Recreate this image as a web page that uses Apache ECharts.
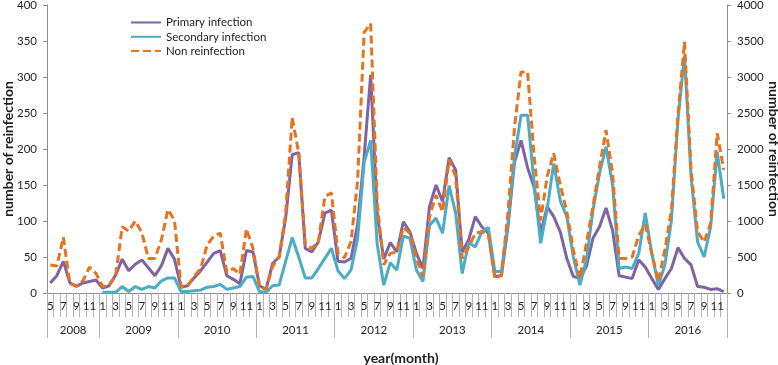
<!DOCTYPE html>
<html>
<head>
<meta charset="utf-8">
<script src="https://cdn.jsdelivr.net/npm/echarts@6/dist/echarts.min.js"></script>
<style>
  html, body { margin: 0; padding: 0; background: #fff; }
  #chart { width: 778px; height: 365px; }
</style>
</head>
<body>
<div id="chart"></div>
<script>
// x axis: years, first month shown in 2008
var years = ['2008', '2009', '2010', '2011', '2012', '2013', '2014', '2015', '2016'];
var firstMonth = 5;

// left axis series
var primary = [
  14, 24, 44, 14, 9, 14, 16, 18,
  7, 10, 25, 47, 31, 40, 46, 35, 24, 38, 62, 47,
  8, 10, 21, 31, 43, 55, 59, 24, 19, 13, 59, 57,
  10, 5, 41, 50, 104, 192, 195, 62, 57, 71, 111, 115,
  44, 43, 48, 95, 189, 303, 110, 47, 70, 57, 99, 85,
  55, 34, 120, 150, 127, 188, 171, 57, 74, 106, 92, 83,
  23, 24, 92, 182, 212, 174, 147, 83, 120, 106, 85, 48,
  23, 20, 37, 76, 92, 118, 87, 24, 22, 20, 46, 36,
  20, 5, 20, 34, 63, 48, 39, 9, 8, 5, 6, 2
];
var secondary = [
  null, null, null, null, null, null, null, null,
  1, 1, 1, 9, 2, 9, 5, 9, 7, 17, 21, 21,
  2, 2, 3, 4, 8, 9, 12, 5, 7, 9, 22, 23,
  2, 1, 10, 11, 44, 77, 50, 21, 21, 34, 48, 62,
  31, 20, 32, 75, 181, 212, 68, 11, 42, 32, 79, 76,
  32, 16, 94, 104, 83, 149, 111, 27, 70, 64, 85, 91,
  30, 30, 97, 189, 247, 247, 152, 69, 117, 180, 128, 106,
  50, 11, 46, 115, 166, 203, 150, 34, 36, 34, 55, 111,
  55, 11, 39, 101, 240, 330, 162, 71, 50, 92, 196, 131
];
// right axis series
var nonReinfection = [
  390, 375, 775, 130, 100, 170, 360, 270,
  90, 110, 240, 920, 860, 1000, 840, 480, 480, 740, 1160, 1010,
  90, 100, 230, 340, 670, 790, 830, 290, 340, 260, 890, 620,
  90, 50, 370, 500, 1100, 2440, 1940, 670, 620, 710, 1340, 1390,
  550, 490, 715, 1550, 3620, 3740, 1250, 390, 550, 570, 910, 830,
  480, 230, 1060, 1360, 1130, 1850, 1620, 480, 640, 830, 850, 820,
  200, 250, 1110, 2300, 3070, 3070, 1900, 1010, 1620, 1940, 1500, 1130,
  600, 200, 690, 1200, 1750, 2260, 1660, 480, 480, 500, 800, 950,
  550, 160, 600, 1150, 2470, 3490, 1710, 850, 710, 970, 2220, 1710
];

// build categories, year starts and label positions
var categories = [], monthOf = [], yearStart = {}, yearMid = {};
years.forEach(function (y, k) {
  var m0 = k === 0 ? firstMonth : 1;
  var start = categories.length;
  yearStart[start] = true;
  yearMid[start + (13 - m0) / 2] = y;
  for (var m = m0; m <= 12; m++) {
    categories.push(y + '-' + m);
    monthOf.push(m);
  }
});

var FONT = 'Lato';
var AXIS_COLOR = '#8c8c8c';
var TICK_COLOR = '#b3b3b3';
var TEXT_COLOR = '#1f1f1f';
var gridBox = {left: 47, right: 51, top: 5, bottom: 72, outerBoundsMode: 'none'};

var chart = echarts.init(document.getElementById('chart'));
chart.setOption({
  animation: false,
  textStyle: {fontFamily: FONT},
  grid: [
    Object.assign({}, gridBox),
    Object.assign({}, gridBox)
  ],
  legend: {
    orient: 'vertical',
    left: 130,
    top: 16,
    padding: 0,
    itemWidth: 30,
    itemHeight: 10,
    itemGap: 1.3,
    itemStyle: {opacity: 0},
    textStyle: {fontFamily: FONT, fontSize: 11.5, lineHeight: 13, color: TEXT_COLOR},
    data: ['Primary infection', 'Secondary infection', 'Non reinfection']
  },
  xAxis: [{
    type: 'category',
    gridIndex: 0,
    data: categories,
    boundaryGap: true,
    axisLine: {show: true, lineStyle: {color: AXIS_COLOR, width: 1}},
    axisTick: {show: true, interval: 0, length: 24, lineStyle: {color: TICK_COLOR}},
    axisLabel: {
      interval: function (i) { return monthOf[i] % 2 === 1; },
      formatter: function (v, i) { return String(monthOf[i]); },
      margin: 7,
      fontSize: 11.5,
      color: TEXT_COLOR
    }
  }, {
    type: 'category',
    gridIndex: 1,
    data: categories,
    boundaryGap: true,
    axisLine: {show: false},
    axisTick: {
      show: true,
      interval: function (i) { return !!yearStart[i]; },
      length: 45,
      lineStyle: {color: TICK_COLOR}
    },
    axisLabel: {
      interval: function (i) { return yearMid[i] !== undefined; },
      formatter: function (v, i) { return yearMid[i] || ''; },
      margin: 31,
      fontSize: 11.5,
      padding: [0, 6.5, 0, 0],
      color: TEXT_COLOR
    },
    name: 'year(month)',
    nameLocation: 'middle',
    nameGap: 58,
    nameMoveOverlap: false,
    nameTextStyle: {fontFamily: FONT, fontSize: 14, fontWeight: 'bold', color: TEXT_COLOR, padding: [0, 0, 0, 28]}
  }],
  yAxis: [{
    type: 'value',
    gridIndex: 0,
    min: 0, max: 400, interval: 50,
    splitLine: {show: false},
    axisLine: {show: true, lineStyle: {color: AXIS_COLOR}},
    axisTick: {show: true, length: 4, lineStyle: {color: AXIS_COLOR}},
    axisLabel: {fontSize: 11.5, margin: 10, color: TEXT_COLOR, formatter: function (v) { return String(v); }},
    name: 'number of reinfection',
    nameLocation: 'middle',
    nameGap: 32,
    nameMoveOverlap: false,
    nameRotate: 90,
    nameTextStyle: {fontFamily: FONT, fontSize: 14, fontWeight: 'bold', color: TEXT_COLOR}
  }, {
    type: 'value',
    gridIndex: 0,
    position: 'right',
    min: 0, max: 4000, interval: 500,
    splitLine: {show: false},
    axisLine: {show: true, lineStyle: {color: AXIS_COLOR}},
    axisTick: {show: true, length: 4, lineStyle: {color: AXIS_COLOR}},
    axisLabel: {fontSize: 11.5, margin: 10, color: TEXT_COLOR, formatter: function (v) { return String(v); }},
    name: 'number of reinfection',
    nameLocation: 'middle',
    nameGap: 40,
    nameMoveOverlap: false,
    nameRotate: -90,
    nameTextStyle: {fontFamily: FONT, fontSize: 14, fontWeight: 'bold', color: TEXT_COLOR}
  }, {
    type: 'value',
    gridIndex: 1,
    show: false,
    min: 0, max: 1
  }],
  series: [{
    name: 'Primary infection',
    type: 'line',
    xAxisIndex: 0, yAxisIndex: 0,
    data: primary,
    symbol: 'none',
    lineStyle: {color: '#7f63a3', width: 3},
    itemStyle: {color: '#7f63a3'}
  }, {
    name: 'Secondary infection',
    type: 'line',
    xAxisIndex: 0, yAxisIndex: 0,
    data: secondary,
    symbol: 'none',
    lineStyle: {color: '#4bacc6', width: 3},
    itemStyle: {color: '#4bacc6'}
  }, {
    name: 'Non reinfection',
    type: 'line',
    xAxisIndex: 0, yAxisIndex: 1,
    data: nonReinfection,
    symbol: 'none',
    lineStyle: {color: '#e8731f', width: 3, type: [8, 4]},
    itemStyle: {color: '#e8731f'}
  }]
});
</script>
</body>
</html>
